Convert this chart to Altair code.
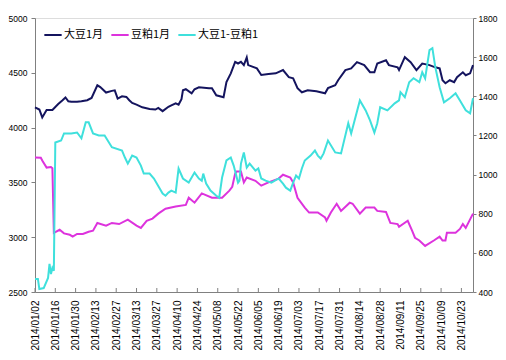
import altair as alt
import pandas as pd

SERIES = ["大豆1月", "豆粕1月", "大豆1-豆粕1"]
COLORS = ["#14145e", "#dd33dd", "#3fe0dc"]

soy_dates = ["2014-01-02","2014-01-05","2014-01-07","2014-01-10","2014-01-14","2014-01-18","2014-01-21","2014-01-23","2014-01-25","2014-01-27","2014-01-31",
             "2014-02-03","2014-02-07","2014-02-10","2014-02-14","2014-02-16","2014-02-20","2014-02-24","2014-02-26","2014-02-28",
             "2014-03-03","2014-03-06","2014-03-08","2014-03-10","2014-03-13","2014-03-17","2014-03-22","2014-03-26","2014-03-28","2014-03-31",
             "2014-04-04","2014-04-06","2014-04-09","2014-04-11","2014-04-13","2014-04-14","2014-04-16","2014-04-20","2014-04-22","2014-04-25",
             "2014-05-02","2014-05-04","2014-05-07","2014-05-12","2014-05-14","2014-05-17","2014-05-20","2014-05-22","2014-05-24","2014-05-26","2014-05-28","2014-05-29",
             "2014-06-04","2014-06-07","2014-06-12","2014-06-17","2014-06-22","2014-06-26","2014-06-29",
             "2014-07-02","2014-07-05","2014-07-09","2014-07-15","2014-07-21","2014-07-23","2014-07-28","2014-07-30",
             "2014-08-04","2014-08-08","2014-08-12","2014-08-17","2014-08-21","2014-08-24","2014-08-26",
             "2014-09-01","2014-09-03","2014-09-09","2014-09-10","2014-09-14","2014-09-18","2014-09-22","2014-09-26",
             "2014-10-01","2014-10-05","2014-10-08","2014-10-10","2014-10-12","2014-10-15","2014-10-18","2014-10-20","2014-10-24","2014-10-26","2014-10-29","2014-10-31"]
soy_vals = [4185,4165,4093,4160,4160,4215,4250,4275,4240,4235,4235,
            4240,4250,4270,4386,4370,4320,4335,4340,4265,
            4285,4280,4250,4225,4210,4185,4170,4165,4180,4150,
            4190,4203,4222,4210,4260,4340,4350,4313,4350,4368,
            4360,4359,4295,4277,4415,4495,4600,4585,4600,4570,4640,4570,
            4540,4480,4490,4495,4525,4460,4450,
            4360,4322,4340,4331,4313,4360,4386,4432,
            4525,4540,4597,4570,4505,4505,4585,
            4615,4570,4550,4525,4643,4597,4525,4585,
            4570,4550,4540,4432,4405,4432,4415,4460,4505,4478,4495,4570]

meal_dates = ["2014-01-02","2014-01-06","2014-01-07","2014-01-10","2014-01-13","2014-01-14","2014-01-15","2014-01-19","2014-01-22","2014-01-26","2014-01-28","2014-01-31",
              "2014-02-04","2014-02-08","2014-02-11","2014-02-14","2014-02-20","2014-02-24",
              "2014-03-01","2014-03-07","2014-03-13","2014-03-16","2014-03-20","2014-03-24","2014-03-28",
              "2014-04-02","2014-04-09","2014-04-16","2014-04-18","2014-04-22","2014-04-27",
              "2014-05-04","2014-05-11","2014-05-16","2014-05-18","2014-05-20","2014-05-21","2014-05-24","2014-05-26","2014-05-28",
              "2014-06-03","2014-06-07","2014-06-12","2014-06-19","2014-06-22","2014-06-27","2014-06-29",
              "2014-07-02","2014-07-07","2014-07-10","2014-07-16","2014-07-21","2014-07-22","2014-07-25","2014-07-29",
              "2014-08-01","2014-08-07","2014-08-09","2014-08-14","2014-08-18","2014-08-24","2014-08-26",
              "2014-09-01","2014-09-04","2014-09-09","2014-09-10","2014-09-16","2014-09-19","2014-09-21","2014-09-24","2014-09-28",
              "2014-10-04","2014-10-08","2014-10-10","2014-10-12","2014-10-13","2014-10-19","2014-10-22","2014-10-24","2014-10-26","2014-10-31"]
meal_vals = [3727,3725,3700,3635,3640,3630,3040,3068,3035,3022,3005,3030,
             3030,3050,3060,3130,3105,3130,
             3120,3160,3105,3085,3150,3170,3215,
             3260,3280,3295,3360,3315,3400,
             3360,3360,3425,3460,3580,3600,3600,3500,3545,
             3515,3470,3500,3535,3570,3545,3500,
             3360,3270,3225,3225,3180,3150,3225,3305,
             3240,3315,3305,3215,3270,3270,3240,
             3230,3130,3120,3095,3150,3060,2995,2970,2920,
             2970,3005,2970,2970,3040,3040,3075,3120,3085,3215]

spread_dates = ["2014-01-02","2014-01-04","2014-01-05","2014-01-08","2014-01-11","2014-01-12","2014-01-13","2014-01-14","2014-01-15","2014-01-16","2014-01-20","2014-01-22","2014-01-27","2014-01-31",
                "2014-02-03","2014-02-06","2014-02-08","2014-02-11","2014-02-15","2014-02-19","2014-02-24",
                "2014-03-03","2014-03-05","2014-03-07","2014-03-10","2014-03-13","2014-03-16","2014-03-18","2014-03-22","2014-03-25","2014-03-31",
                "2014-04-02","2014-04-04","2014-04-06","2014-04-09","2014-04-11","2014-04-14","2014-04-18","2014-04-22","2014-04-25","2014-04-27","2014-04-28","2014-04-30",
                "2014-05-03","2014-05-07","2014-05-09","2014-05-11","2014-05-14","2014-05-17","2014-05-19","2014-05-22","2014-05-23","2014-05-24","2014-05-26","2014-05-28","2014-05-30",
                "2014-06-03","2014-06-05","2014-06-07","2014-06-10","2014-06-14","2014-06-19","2014-06-22","2014-06-24","2014-06-27","2014-06-29",
                "2014-07-01","2014-07-03","2014-07-05","2014-07-07","2014-07-11","2014-07-14","2014-07-16","2014-07-18","2014-07-20","2014-07-23","2014-07-28",
                "2014-08-01","2014-08-06","2014-08-08","2014-08-14","2014-08-18","2014-08-21","2014-08-24","2014-08-26","2014-08-28",
                "2014-09-02","2014-09-07","2014-09-10","2014-09-11","2014-09-14","2014-09-17","2014-09-20","2014-09-24","2014-09-26","2014-09-28",
                "2014-10-01","2014-10-03","2014-10-05","2014-10-08","2014-10-11","2014-10-15","2014-10-19","2014-10-22","2014-10-26","2014-10-29","2014-10-31"]
spread_vals = [467,467,415,420,472,544,492,523,508,1164,1174,1210,1210,1215,
               1185,1267,1267,1210,1200,1200,1140,
               1123,1087,1056,1097,1087,1046,1005,1005,980,903,
               892,908,918,908,1031,980,959,1010,980,969,1005,954,
               918,892,882,985,1072,1087,1046,959,969,1056,1113,1036,1056,
               1020,1031,980,969,959,980,954,933,918,959,
               995,980,1031,1072,1097,1123,1097,1082,1108,1174,1113,
               1108,1262,1210,1379,1328,1277,1215,1262,1344,
               1328,1364,1379,1421,1395,1472,1492,1472,1523,1492,
               1636,1646,1549,1446,1369,1390,1415,1379,1328,1313,1390]

tick_dates = ["2014-01-02","2014-01-16","2014-01-30","2014-02-13","2014-02-27","2014-03-13","2014-03-27",
              "2014-04-10","2014-04-24","2014-05-08","2014-05-22","2014-06-05","2014-06-19","2014-07-03",
              "2014-07-17","2014-07-31","2014-08-14","2014-08-28","2014-09-11","2014-09-25","2014-10-09","2014-10-23"]
left_ticks = [2500, 3000, 3500, 4000, 4500, 5000]
right_ticks = [400, 600, 800, 1000, 1200, 1400, 1600, 1800]

left_df = pd.concat([
    pd.DataFrame({"date": soy_dates, "value": soy_vals, "series": SERIES[0]}),
    pd.DataFrame({"date": meal_dates, "value": meal_vals, "series": SERIES[1]}),
])
right_df = pd.DataFrame({"date": spread_dates, "value": spread_vals, "series": SERIES[2]})
tick_df = pd.DataFrame({"date": tick_dates})

AX_FONT = "Liberation Sans"
x_scale = alt.Scale(domain=["2014-01-02", "2014-10-31"], nice=False)
x_axis = alt.Axis(values=tick_dates, format="%Y/%m/%d", labelAngle=270, title=None,
                  ticks=False, labelPadding=8, labelFontSize=10, labelFont=AX_FONT,
                  labelColor="#000000", domainColor="#808080", grid=False,
                  labelOverlap=False, labelFlush=False, labelBound=False)
x_enc = alt.X("date:T", scale=x_scale, axis=x_axis)
color_enc = alt.Color("series:N",
                      scale=alt.Scale(domain=SERIES, range=COLORS),
                      legend=alt.Legend(title=None, orient="none", legendX=8, legendY=7,
                                        direction="horizontal", symbolType="stroke",
                                        symbolStrokeWidth=2, symbolSize=300, labelFontSize=11,
                                        labelFont="Noto Sans CJK SC", labelColor="#000000",
                                        columnPadding=3, labelOffset=1))

left = alt.Chart(left_df).mark_line(strokeWidth=2).encode(
    x=x_enc,
    y=alt.Y("value:Q", scale=alt.Scale(domain=[2500, 5000], nice=False, zero=False),
            axis=alt.Axis(values=left_ticks, format="d", title=None, grid=False, tickSize=4, labelPadding=4,
                          labelFontSize=8.5, labelFont=AX_FONT, labelColor="#000000",
                          domainColor="#808080", tickColor="#808080")),
    color=color_enc,
    order=alt.Order("date:T"),
)
right = alt.Chart(right_df).mark_line(strokeWidth=2).encode(
    x=x_enc,
    y=alt.Y("value:Q", scale=alt.Scale(domain=[400, 1800], nice=False, zero=False),
            axis=alt.Axis(values=right_ticks, format="d", orient="right", title=None, grid=False, tickSize=3,
                          labelPadding=2, labelFontSize=8.5, labelFont=AX_FONT, labelColor="#000000",
                          domainColor="#808080", tickColor="#808080")),
    color=color_enc,
    order=alt.Order("date:T"),
)
xticks = alt.Chart(tick_df).mark_rule(color="#808080", strokeWidth=1).encode(
    x=x_enc,
    y=alt.value(270), y2=alt.value(274),
)

chart = alt.layer(left, right, xticks).resolve_scale(y="independent").properties(
    width=438, height=274,
    autosize=alt.AutoSizeParams(type="none"),
    padding={"left": 27, "top": 10, "right": 25, "bottom": 60},
).configure_view(stroke=None).configure(background="#ffffff")

chart.save("out.html", embed_options={"renderer": "svg", "actions": False})
